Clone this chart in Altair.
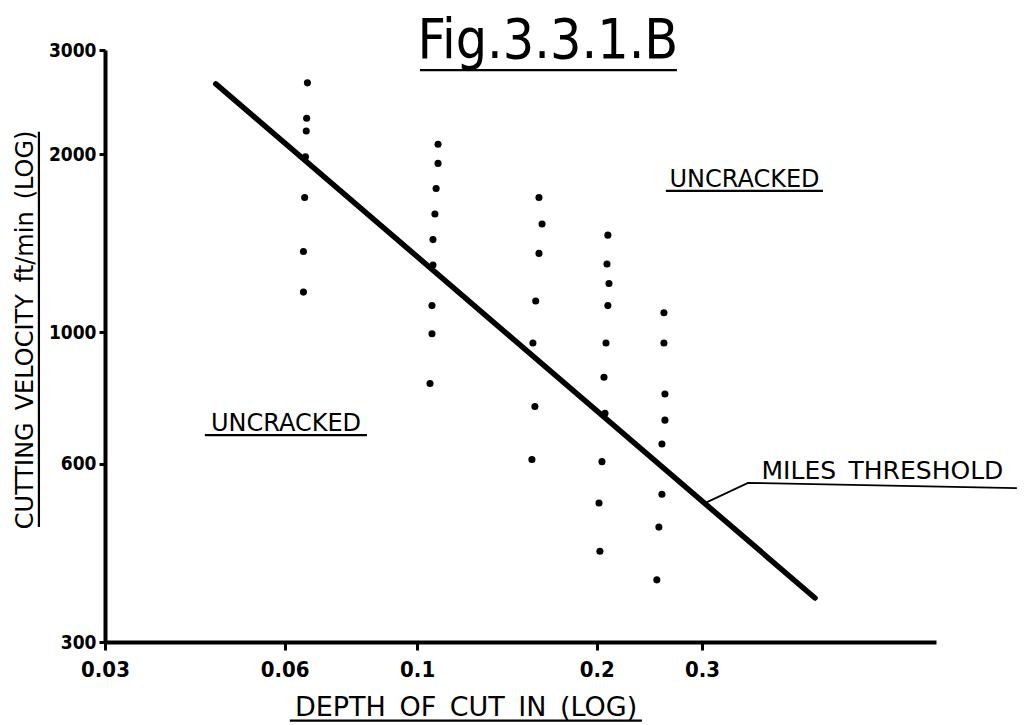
import altair as alt
import pandas as pd

# ---- measured data (depth of cut, cutting velocity) ----
depth_c1 = [0.0655, 0.0653, 0.0652, 0.0650, 0.0648, 0.0645, 0.0645]
vel_c1 = [2640, 2300, 2190, 1980, 1690, 1370, 1170]
depth_c2 = [0.1084, 0.1084, 0.1076, 0.1071, 0.1063, 0.1063, 0.1059, 0.1059, 0.1051]
vel_c2 = [2080, 1930, 1750, 1585, 1435, 1300, 1110, 995, 820]
depth_c3 = [0.1600, 0.1619, 0.1600, 0.1580, 0.1563, 0.1575, 0.1557]
vel_c3 = [1690, 1525, 1360, 1130, 960, 750, 610]
depth_c4 = [0.2087, 0.2080, 0.2096, 0.2087, 0.2072, 0.2056, 0.2064, 0.2040, 0.2017, 0.2024]
vel_c4 = [1460, 1305, 1210, 1110, 960, 840, 730, 605, 515, 427]
depth_c5 = [0.2591, 0.2591, 0.2601, 0.2601, 0.2571, 0.2571, 0.2541, 0.2521]
vel_c5 = [1080, 960, 787, 711, 648, 533, 469, 382]

# Miles threshold line
thr_depth = [0.046, 0.464]
thr_vel = [2630, 356]

# leader from line to label
lead_depth = [0.3035, 0.3583, 1.011]
lead_vel = [515, 557, 546]

x_ticks = [0.03, 0.06, 0.1, 0.2, 0.3]
y_ticks = [300, 600, 1000, 2000, 3000]

# annotations: text, x, y (baseline), font size, angle
ann_text = ["UNCRACKED", "UNCRACKED", "MILES\u2002THRESHOLD",
            "DEPTH\u2002OF\u2002CUT\u2002IN\u2002(LOG)",
            "CUTTING\u2002VELOCITY\u2002ft/min\u2002(LOG)"]
ann_x = [0.3535, 0.0603, 0.6018, 0.1208, 0.02273]
ann_y = [1761, 682, 566, 225, 1010]
ann_size = [24, 24, 25, 27, 24]
ann_angle = [0, 0, 0, 0, 270]

# underlines
ul_x = [0.261, 0.0441, 0.0612, 0.02325, 0.1011]
ul_x2 = [0.4785, 0.0824, 0.238, 0.02325, 0.2724]
ul_y = [1734, 671, 221, 2182, 2775]
ul_y2 = [1734, 671, 221, 469, 2775]

title_text = ["Fig.3.3.1.B"]
title_x = [0.1656]
title_y = [2907]

# ---- build tables ----
pts = pd.DataFrame({
    "depth": depth_c1 + depth_c2 + depth_c3 + depth_c4 + depth_c5,
    "vel": vel_c1 + vel_c2 + vel_c3 + vel_c4 + vel_c5,
})
thr = pd.DataFrame({"depth": thr_depth, "vel": thr_vel, "o": [0, 1]})
lead = pd.DataFrame({"depth": lead_depth, "vel": lead_vel, "o": [0, 1, 2]})
ann = pd.DataFrame({"t": ann_text, "depth": ann_x, "vel": ann_y, "fs": ann_size, "ang": ann_angle})
ul = pd.DataFrame({"depth": ul_x, "depth2": ul_x2, "vel": ul_y, "vel2": ul_y2})
ttl = pd.DataFrame({"t": title_text, "depth": title_x, "vel": title_y})

XMAX = 0.74
W = 831
H = 592

xs = alt.Scale(type="log", domain=[0.03, XMAX], nice=False)
ys = alt.Scale(type="log", domain=[300, 3000], nice=False)
xa = alt.Axis(values=x_ticks, format="~g", title=None, labelFlush=False, labelOverlap=False)
ya = alt.Axis(values=y_ticks, format="d", title=None, labelOverlap=False)


def X(field="depth"):
    return alt.X(f"{field}:Q", scale=xs, axis=xa)


def Y(field="vel"):
    return alt.Y(f"{field}:Q", scale=ys, axis=ya)


points = alt.Chart(pts).mark_circle(size=50, color="black", opacity=1).encode(
    x=X(), y=Y(),
)

line = alt.Chart(thr).mark_line(color="black", strokeWidth=5.5, strokeCap="round").encode(
    x=X(), y=Y(), order="o:Q",
)

leader = alt.Chart(lead).mark_line(color="black", strokeWidth=1.8).encode(
    x=X(), y=Y(), order="o:Q",
)

texts = alt.Chart(ann).mark_text(align="center", baseline="alphabetic",
                                 font="DejaVu Sans", color="black").encode(
    x=X(), y=Y(),
    text="t:N",
    size=alt.Size("fs:Q", scale=None),
    angle=alt.Angle("ang:Q", scale=None),
)

underlines = alt.Chart(ul).mark_rule(color="black", strokeWidth=2.2).encode(
    x=X(), x2="depth2:Q",
    y=Y(), y2="vel2:Q",
)

title = alt.Chart(ttl).mark_text(align="center", baseline="alphabetic",
                                 font="Liberation Sans Narrow, DejaVu Sans Condensed, sans-serif",
                                 fontSize=55, color="black").encode(
    x=X(), y=Y(), text="t:N",
)

chart = alt.layer(points, line, leader, underlines, texts, title).properties(
    width=W, height=H,
    autosize=alt.AutoSizeParams(type="none"),
    padding={"left": 105, "top": 50, "right": 1034 - 105 - W, "bottom": 725 - 50 - H},
    background="white",
).configure_view(stroke=None).configure_axis(
    grid=False, domainColor="black", domainWidth=4, tickColor="black",
    tickWidth=3, labelColor="black", labelFont="DejaVu Sans Condensed",
    labelFontWeight="bold",
).configure_axisX(
    tickSize=8, labelFontSize=22, labelPadding=9,
).configure_axisY(
    tickSize=6, labelFontSize=19, labelPadding=3,
)

chart.save("out.html", embed_options={"renderer": "svg", "actions": False})
